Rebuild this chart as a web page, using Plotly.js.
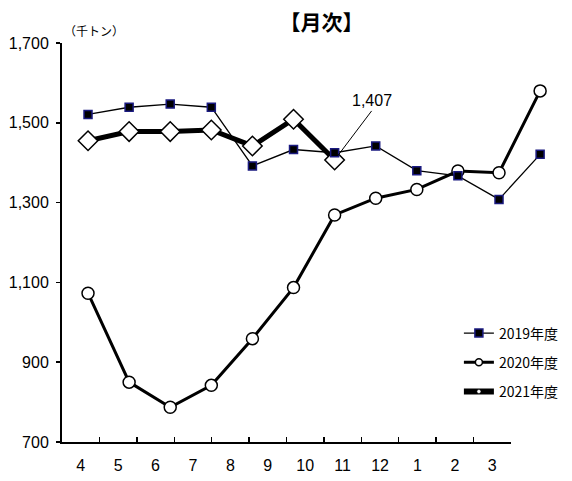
<!DOCTYPE html>
<html><head><meta charset="utf-8">
<script src="https://cdn.plot.ly/plotly-3.0.1.min.js"></script>
<style>html,body{margin:0;padding:0;background:#fff}#c{width:572px;height:481px}</style>
</head><body><div id="c"></div>
<script>
const months = ["4","5","6","7","8","9","10","11","12","1","2","3"];
const fy2019 = [1521,1539,1547,1539,1392,1433,1425,1442,1380,1367,1308,1421];
const fy2020 = [1073,850,787,842,959,1087,1269,1311,1333,1379,1375,1580];
const fy2021 = [1455,1478,1478,1482,1442,1509,1407];
const names = ["2019年度","2020年度","2021年度"];
const yTicks = [700,900,1100,1300,1500,1700];
const yTickText = ["700","900","1,100","1,300","1,500","1,700"];
const noteIdx = 6;

const numFont = "Liberation Sans, Arial, sans-serif";
const jpFont = "Noto Sans CJK JP, sans-serif";

const styles = [
  {line: {color: "#000", width: 1.3}, marker: {symbol: "square", size: 8, color: "#000", line: {color: "#1a1a80", width: 1.5}}},
  {line: {color: "#000", width: 3}, marker: {symbol: "circle", size: 12, color: "#fff", line: {color: "#000", width: 1.5}}},
  {line: {color: "#000", width: 5}, marker: {symbol: "diamond", size: 15, color: "#fff", line: {color: "#000", width: 1.5}}}
];
const legStyles = [
  {line: {color: "#000", width: 1.3}, marker: {symbol: "square", size: 8, color: "#000", line: {color: "#1a1a80", width: 1.5}}},
  {line: {color: "#000", width: 3}, marker: {symbol: "circle", size: 7, color: "#fff", line: {color: "#000", width: 1.5}}},
  {line: {color: "#000", width: 6}, marker: {symbol: "circle", size: 4, color: "#fff", line: {color: "#000", width: 0.5}}}
];
const series = [fy2019, fy2020, fy2021];

const traces = [];
[2,1,0].forEach(i => {
  traces.push(Object.assign({x: months.slice(0, series[i].length), y: series[i], name: names[i], mode: "lines+markers",
    xaxis: "x2", yaxis: "y", showlegend: false, cliponaxis: false}, styles[i]));
});
[0,1,2].forEach(i => {
  traces.push(Object.assign({x: [null], y: [null], name: names[i], mode: "lines+markers", showlegend: true, legendgroup: "g" + i}, legStyles[i]));
});

const layout = {
  width: 572, height: 481,
  margin: {l: 62, r: 20, t: 43, b: 39, autoexpand: false},
  paper_bgcolor: "#fff", plot_bgcolor: "rgba(0,0,0,0)",
  showlegend: true,
  title: {text: "<b>【月次】</b>", font: {family: jpFont, size: 21, color: "#000"}, x: 0.562, xanchor: "center", y: 0.953, yanchor: "middle"},
  xaxis: {type: "category", categoryarray: months, domain: [0, 0.9163], range: [-0.5, 11.5], showgrid: false, zeroline: false,
    showline: true, linecolor: "#000", linewidth: 2, ticks: "inside", tickson: "boundaries", ticklen: 5, tickwidth: 1.5, tickcolor: "#000",
    tickfont: {family: numFont, size: 16, color: "#000"}, ticklabelstandoff: 8},
  xaxis2: {type: "category", categoryarray: months, domain: [0, 1], anchor: "y", range: [-0.633, 11.289], visible: false},
  yaxis: {range: [700, 1700], tickvals: yTicks, ticktext: yTickText, showgrid: false, zeroline: false, anchor: "x",
    showline: true, linecolor: "#000", linewidth: 2, ticks: "outside", ticklen: 4, tickwidth: 1.5, tickcolor: "#000",
    tickfont: {family: numFont, size: 16, color: "#000"}, ticklabelstandoff: 4},
  legend: {x: 0.81, xanchor: "left", y: 0.312, yanchor: "top", bgcolor: "rgba(0,0,0,0)",
    font: {family: jpFont, size: 14, color: "#000"}, tracegroupgap: 8, itemwidth: 30, traceorder: "grouped"},
  annotations: [
    {xref: "paper", yref: "paper", x: 0.066, y: 1.032, text: "（千トン）", showarrow: false,
     font: {family: jpFont, size: 12, color: "#000"}, xanchor: "center", yanchor: "middle"},
    {xref: "x2", yref: "y", x: noteIdx, y: fy2021[noteIdx], text: "1,407", showarrow: true, arrowhead: 0, arrowwidth: 1, arrowcolor: "#000",
     ax: 37, ay: -49, standoff: 5, font: {family: numFont, size: 16, color: "#000"}, xanchor: "center", yanchor: "bottom"}
  ]
};
Plotly.newPlot("c", traces, layout, {displayModeBar: false, staticPlot: true});
</script></body></html>
